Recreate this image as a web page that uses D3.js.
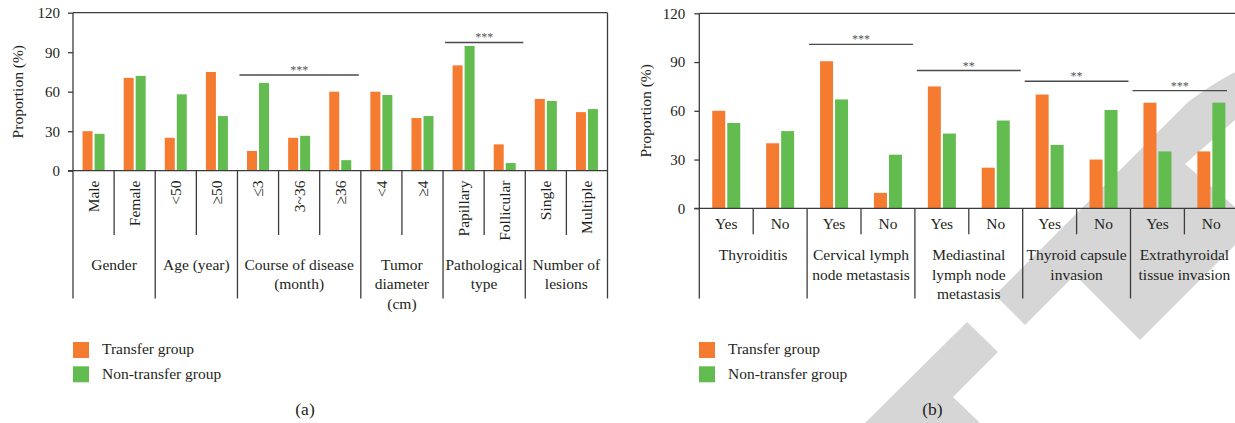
<!DOCTYPE html>
<html><head><meta charset="utf-8">
<script src="https://cdn.jsdelivr.net/npm/d3@7"></script>
<style>
html,body{margin:0;padding:0;background:#fff;}
svg{display:block;font-family:"Liberation Serif","Times New Roman",serif;}
</style></head><body>
<svg id="fig" width="1235" height="423"></svg>
<script>
// ---- Panel (a): clinical characteristics ----
const catsA = ["Male","Female","<50","≥50","≤3","3~36","≥36","<4","≥4","Papillary","Follicular","Single","Multiple"];
const groupsA = [
  {lines:["Gender"], from:0, to:1},
  {lines:["Age (year)"], from:2, to:3},
  {lines:["Course of disease","(month)"], from:4, to:6},
  {lines:["Tumor","diameter","(cm)"], from:7, to:8},
  {lines:["Pathological","type"], from:9, to:10},
  {lines:["Number of","lesions"], from:11, to:12}
];
const transferA    = [30, 70.5, 25, 75, 15, 25, 60, 60, 40, 80, 20, 54.5, 44.5];
const nonTransferA = [28, 72, 58, 41.5, 66.7, 26.5, 8, 57.5, 41.5, 94.7, 5.8, 53, 46.8];
const sigA = [
  {from:4, to:6, level:72.7, label:"***"},
  {from:9, to:10, level:97.4, label:"***"}
];

// ---- Panel (b): pathological features ----
const catsB = ["Yes","No","Yes","No","Yes","No","Yes","No","Yes","No"];
const groupsB = [
  {lines:["Thyroiditis"], from:0, to:1},
  {lines:["Cervical lymph","node metastasis"], from:2, to:3},
  {lines:["Mediastinal","lymph node","metastasis"], from:4, to:5},
  {lines:["Thyroid capsule","invasion"], from:6, to:7},
  {lines:["Extrathyroidal","tissue invasion"], from:8, to:9}
];
const transferB    = [60, 40, 90.5, 9.5, 75, 25, 70, 30, 65, 35];
const nonTransferB = [52.5, 47.5, 67, 33, 46, 54, 39, 60.5, 35, 65];
const sigB = [
  {from:2, to:3, level:100.9, label:"***"},
  {from:4, to:5, level:84.8, label:"**"},
  {from:6, to:7, level:78.2, label:"**"},
  {from:8, to:9, level:72.4, label:"***"}
];

const yTicks = [0, 30, 60, 90, 120];
const seriesNames = ["Transfer group", "Non-transfer group"];
const seriesColors = ["#f47b30", "#62bc4f"];
const axisColor = "#3c3c3c";
const textColor = "#231f20";

const svg = d3.select("#fig");

// faint publisher mark behind the panels
const mark = svg.append("g").attr("fill", "#d6d6d6");
mark.append("path").attr("d", "M865,423 L967,322 L998,352 L953,397 L980,423 Z");
mark.append("path").attr("d",
  "M995,295 L1120,170 L1188,102 Q1212,84 1235,72 L1235,120 L1185,164 L1235,207 " +
  "L1235,245 L1140,340 L1075,275 L1025,325 Z");

function panel(opt) {
  const g = svg.append("g");
  const x = d3.scaleBand().domain(d3.range(opt.cats.length)).range([opt.left, opt.right]);
  const y = d3.scaleLinear().domain([0, 120]).range([opt.bottom, opt.top]);
  const bw = x.bandwidth();

  // y axis ticks + labels
  const ax = g.append("g").attr("transform", `translate(${opt.left},0)`)
    .call(d3.axisLeft(y).tickValues(yTicks).tickSize(5).tickPadding(opt.tickPad));
  ax.select(".domain").remove();
  ax.selectAll(".tick line").attr("stroke", axisColor).attr("stroke-width", 1.3);
  ax.selectAll(".tick text").attr("fill", textColor)
    .style("font-family", '"Liberation Serif",serif').style("font-size", "15px");

  // y title
  g.append("text")
    .attr("transform", `translate(${opt.titleX},${(opt.top + opt.bottom) / 2}) rotate(-90)`)
    .attr("text-anchor", "middle").attr("dy", "0.35em")
    .attr("fill", textColor).style("font-size", "15.5px")
    .text("Proportion (%)");

  // bars
  const cx = i => x(i) + bw / 2;
  g.append("g").selectAll("rect").data(opt.s1).join("rect")
    .attr("x", (d, i) => cx(i) - 1 - opt.barW).attr("width", opt.barW)
    .attr("y", d => y(d)).attr("height", d => y(0) - y(d))
    .attr("fill", seriesColors[0]);
  g.append("g").selectAll("rect").data(opt.s2).join("rect")
    .attr("x", (d, i) => cx(i) + 1).attr("width", opt.barW)
    .attr("y", d => y(d)).attr("height", d => y(0) - y(d))
    .attr("fill", seriesColors[1]);

  // frame lines
  const L = (x1, y1, x2, y2, w) => g.append("line")
    .attr("x1", x1).attr("y1", y1).attr("x2", x2).attr("y2", y2)
    .attr("stroke", axisColor).attr("stroke-width", w || 1.3);
  L(opt.left, opt.top, opt.frameRight, opt.top);
  if (opt.rightBorder) L(opt.right, opt.top, opt.right, opt.groupBottom);
  L(opt.left - 5, y(0), opt.frameRight, y(0));
  L(opt.left, opt.top, opt.left, opt.groupBottom);

  // category dividers
  const groupStarts = new Set(opt.groups.map(gr => gr.from));
  for (let i = 1; i < opt.cats.length; i++) {
    const xx = x(i);
    L(xx, y(0), xx, groupStarts.has(i) ? opt.groupBottom : opt.subBottom);
  }

  // category labels
  if (opt.rotate) {
    g.append("g").selectAll("text").data(opt.cats).join("text")
      .attr("transform", (d, i) => `translate(${cx(i)},${opt.catY}) rotate(-90)`)
      .attr("text-anchor", "end").attr("dy", "0.35em")
      .attr("fill", textColor).style("font-size", "15.5px").text(d => d);
  } else {
    g.append("g").selectAll("text").data(opt.cats).join("text")
      .attr("x", (d, i) => cx(i)).attr("y", opt.catY)
      .attr("text-anchor", "middle")
      .attr("fill", textColor).style("font-size", "15.5px").text(d => d);
  }

  // group labels
  opt.groups.forEach(gr => {
    const mx = (x(gr.from) + x(gr.to) + bw) / 2;
    const t = g.append("text").attr("text-anchor", "middle")
      .attr("fill", textColor).style("font-size", "15.5px");
    gr.lines.forEach((ln, k) => {
      t.append("tspan").attr("x", mx).attr("y", opt.groupY + k * opt.lineH).text(ln);
    });
  });

  // significance brackets
  opt.sig.forEach(s => {
    const x1 = x(s.from) + 2;
    const x2 = Math.min(x(s.to) + bw - 2, 1227);
    const yy = y(s.level);
    g.append("line").attr("x1", x1).attr("x2", x2).attr("y1", yy).attr("y2", yy)
      .attr("stroke", "#4a4a4a").attr("stroke-width", 1.4);
    g.append("text").attr("x", (x1 + x2) / 2).attr("y", yy - 1)
      .attr("text-anchor", "middle").attr("fill", "#555")
      .style("font-size", "12px").text(s.label);
  });

  // legend
  seriesNames.forEach((nm, k) => {
    g.append("rect").attr("x", opt.legX).attr("y", 342 + k * 24.3)
      .attr("width", 16).attr("height", 16).attr("fill", seriesColors[k]);
    g.append("text").attr("x", opt.legX + 29).attr("y", 354 + k * 24.8)
      .attr("fill", textColor).style("font-size", "15.5px").text(nm);
  });

  // panel tag
  g.append("text").attr("x", opt.tagX).attr("y", 415).attr("text-anchor", "middle")
    .attr("fill", textColor).style("font-size", "17.5px").text(opt.tag);
}

panel({
  cats: catsA, groups: groupsA, s1: transferA, s2: nonTransferA, sig: sigA,
  left: 73, right: 607.5, frameRight: 607.5, rightBorder: true,
  top: 12.7, bottom: 170.7, groupBottom: 298.5, subBottom: 235,
  barW: 10, tickPad: 8, titleX: 18, rotate: true, catY: 180.5,
  groupY: 269.7, lineH: 19.7, legX: 73, tagX: 305, tag: "(a)"
});

panel({
  cats: catsB, groups: groupsB, s1: transferB, s2: nonTransferB, sig: sigB,
  left: 699.3, right: 1238.3, frameRight: 1235, rightBorder: false,
  top: 13.3, bottom: 208.3, groupBottom: 298.5, subBottom: 234.3,
  barW: 13, tickPad: 9, titleX: 646, rotate: false, catY: 229,
  groupY: 260, lineH: 19.5, legX: 699, tagX: 932.5, tag: "(b)"
});
</script>
</body></html>
